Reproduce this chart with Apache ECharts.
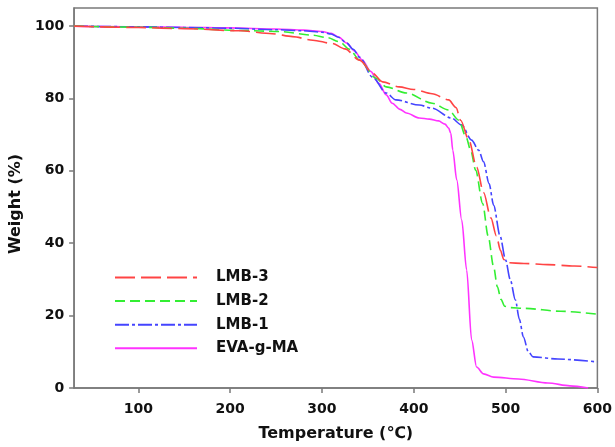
<!DOCTYPE html>
<html>
<head>
<meta charset="utf-8">
<script src="https://cdn.jsdelivr.net/npm/echarts@6/dist/echarts.min.js"></script>
<style>html,body{margin:0;padding:0;background:#fff}#c{width:615px;height:447px}</style>
</head>
<body>
<div id="c"></div>
<script>
const seriesNames = ['LMB-3', 'LMB-2', 'LMB-1', 'EVA-g-MA'];
const xTicks = [100, 200, 300, 400, 500, 600];
const yTicks = [0, 20, 40, 60, 80, 100];

const lmb3X = [30,100,150,211,246,268,290,311,325,341,355,366,384,400,420,438,446,451,460,468.5,476,484,490,494.5,498,502,520,546,575,600];
const lmb3Y = [100,99.6,99.3,98.7,97.9,97.1,96.1,95.2,93.7,90.6,87,84.6,83.2,82.5,81.3,79.6,77.5,74,68.5,61,54,47,42,38,35.5,34.6,34.4,34.1,33.7,33.3];

const lmb2X = [30,100,150,211,254,290,306,319,330,341,359,370,392,420,438,449,457,462,467.4,475,481,487,491,495,499,505,520,560,600];
const lmb2Y = [100,99.7,99.4,98.8,98.5,97.5,96.8,95.7,93.6,90.6,85.6,83.2,81.5,78.7,76.8,74,69.3,65.7,60.2,51,42,33.5,28,24.5,22.6,22.2,22.0,21.2,20.4];

const lmb1X = [30,100,150,200,250,280,300,310,318,327,334,341,355,370,380.5,406,420,441,452,463,470.7,476,482,487,494,500,505,510.7,515,519.4,524.8,530,557,600];
const lmb1Y = [100,99.8,99.6,99.4,99.0,98.7,98.3,97.8,96.9,95.3,93.6,91.4,85.9,81.5,79.6,78.2,77.3,74.6,72.7,68.5,65.7,62.5,56.5,50.5,42,35.4,30,24.3,19,14.1,10,8.6,8.0,7.2];

const evaX = [30,100,150,200,250,280,300,310,318,327,335,344,353,362,370,376.5,385,392,406,417,427,434,438,440.3,442.5,446.8,452.2,457.6,463,468.4,476,487,514,546,570,590];
const evaY = [100,99.8,99.7,99.5,99.2,98.9,98.5,98.0,97.0,95.3,93.2,90.6,87.5,84.2,81,78.7,77,76,74.6,74.3,73.8,72.9,71.8,70.4,65.7,57.5,46.4,32.6,13.3,5.8,3.9,3.0,2.5,1.4,0.6,0];

function pairs(xs, ys) { return xs.map((x, i) => [x, ys[i]]); }

const colors = ['#ff4444', '#33ee33', '#4444ff', '#ff33ff'];
const dashes = [[20, 6], [10, 5], [14, 3, 3, 3], 'solid'];
const dataSets = [pairs(lmb3X, lmb3Y), pairs(lmb2X, lmb2Y), pairs(lmb1X, lmb1Y), pairs(evaX, evaY)];

const font = '"DejaVu Sans", "Liberation Sans", Arial, sans-serif';
const axisGray = '#7a7a7a';

const chart = echarts.init(document.getElementById('c'), null, {renderer: 'canvas'});
chart.setOption({
  animation: false,
  backgroundColor: '#fff',
  grid: {left: 73, right: 15, top: 8, bottom: 59, show: true, borderColor: axisGray, borderWidth: 1.5, backgroundColor: 'transparent'},
  legend: {
    orient: 'vertical', left: 114, top: 270, padding: 0,
    itemWidth: 82, itemHeight: 14, itemGap: 8.6,
    data: seriesNames,
    itemStyle: {opacity: 0},
    textStyle: {fontFamily: font, fontWeight: 'bold', fontSize: 15, color: '#111', padding: [0, 0, 0, 14]}
  },
  xAxis: {
    type: 'value', min: 30, max: 600,
    name: 'Temperature (℃)', nameLocation: 'middle', nameGap: 38,
    nameTextStyle: {fontFamily: font, fontWeight: 'bold', fontSize: 16, color: '#111'},
    axisLine: {show: true, lineStyle: {color: axisGray, width: 1.5}},
    axisTick: {show: true, length: 5, lineStyle: {color: axisGray, width: 1.5}, customValues: xTicks},
    axisLabel: {fontFamily: font, fontWeight: 'bold', fontSize: 14, color: '#111', margin: 14, customValues: xTicks},
    splitLine: {show: false}
  },
  yAxis: {
    type: 'value', min: 0, max: 105,
    name: 'Weight (%)', nameLocation: 'middle', nameGap: 47,
    nameTextStyle: {fontFamily: font, fontWeight: 'bold', fontSize: 16, color: '#111', padding: [0, 12, 0, 0]},
    axisLine: {show: true, lineStyle: {color: axisGray, width: 1.5}},
    axisTick: {show: true, length: 5, lineStyle: {color: axisGray, width: 1.5}, customValues: yTicks},
    axisLabel: {fontFamily: font, fontWeight: 'bold', fontSize: 14, color: '#111', margin: 10, customValues: yTicks},
    splitLine: {show: false}
  },
  series: seriesNames.map((n, i) => ({
    name: n, type: 'line', data: dataSets[i], symbol: 'none', showSymbol: false,
    smooth: 0.3, smoothMonotone: 'x',
    lineStyle: {color: colors[i], width: 1.6, type: dashes[i]},
    itemStyle: {color: colors[i]},
    z: 4 - i
  }))
});
</script>
</body>
</html>
